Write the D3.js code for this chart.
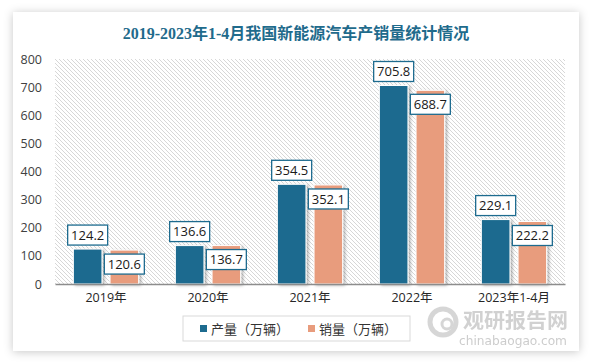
<!DOCTYPE html>
<html><head><meta charset="utf-8">
<script src="https://cdn.jsdelivr.net/npm/d3@7/dist/d3.min.js"></script>
<style>html,body{margin:0;padding:0;background:#fff;}svg{display:block;}</style>
</head><body>
<svg id="chart" width="595" height="364"></svg>
<script>
const categories = ["2019年","2020年","2021年","2022年","2023年1-4月"];
const seriesNames = ["产量（万辆）","销量（万辆）"];
const production = [124.2,136.6,354.5,705.8,229.1];
const sales = [120.6,136.7,352.1,688.7,222.2];
const yTicks = [0,100,200,300,400,500,600,700,800];
const colors = ["#1d6b8f","#e89c7d"];
const title = "2019-2023年1-4月我国新能源汽车产销量统计情况";

(function(){
const svg = d3.select("#chart");
const defs = svg.append("defs");
const cardF = defs.append("filter").attr("id","cardShadow").attr("x","-10%").attr("y","-10%").attr("width","120%").attr("height","120%");
cardF.append("feDropShadow").attr("dx",0).attr("dy",1).attr("stdDeviation",5).attr("flood-color","#000").attr("flood-opacity",0.22);
const barF = defs.append("filter").attr("id","barShadow").attr("x","-20%").attr("y","-10%").attr("width","150%").attr("height","130%");
barF.append("feDropShadow").attr("dx",2).attr("dy",1).attr("stdDeviation",1.5).attr("flood-color","#000").attr("flood-opacity",0.3);
const pat = defs.append("pattern").attr("id","hatch").attr("patternUnits","userSpaceOnUse").attr("width",4).attr("height",4);
pat.append("rect").attr("width",4).attr("height",4).attr("fill","#fff");
pat.append("path").attr("d","M-1,-1 L5,5 M-1,3 L1,5 M3,-1 L5,1").attr("stroke","#d2d2d2").attr("stroke-width",0.9);

svg.append("rect").attr("x",13).attr("y",12).attr("width",566).attr("height",339).attr("fill","#fff").attr("filter","url(#cardShadow)");

svg.append("text").attr("x",296).attr("y",39).attr("text-anchor","middle")
  .attr("font-family","'Liberation Serif','Noto Sans CJK SC',serif").attr("font-weight","bold")
  .attr("font-size",16).attr("fill","#1f6b8c").text(title);

const pL=55, pR=565, pT=59, pB=284;
const y = d3.scaleLinear().domain([0,800]).range([pB,pT]);
const x0 = d3.scaleBand().domain(categories).range([pL,pR]).paddingInner(0.36).paddingOuter(0.18);
const x1 = d3.scaleBand().domain([0,1]).range([0,x0.bandwidth()]).paddingInner(0.22);

svg.append("rect").attr("x",pL).attr("y",pT).attr("width",pR-pL).attr("height",pB-pT).attr("fill","url(#hatch)");

const yAxis = svg.append("g").attr("transform",`translate(${pL},0)`)
  .call(d3.axisLeft(y).tickValues(yTicks).tickSize(0).tickPadding(13));
yAxis.select(".domain").remove();
yAxis.selectAll("text").attr("font-family","'Open Sans','DejaVu Sans',sans-serif").attr("font-size",12.5).attr("fill","#404040");

const data = [production, sales];
const font = "'Open Sans','Noto Sans CJK SC',sans-serif";
data.forEach((vals,si)=>{
  svg.append("g").selectAll("rect").data(vals).join("rect")
    .attr("x",(d,i)=>x0(categories[i])+x1(si))
    .attr("y",d=>y(d)).attr("width",x1.bandwidth()).attr("height",d=>pB-y(d))
    .attr("fill",colors[si]).attr("stroke","#fff").attr("stroke-width",1)
    .attr("filter","url(#barShadow)");
});

const xAxis = svg.append("g").attr("transform",`translate(0,${pB})`)
  .call(d3.axisBottom(x0).tickSize(0).tickPadding(9));
xAxis.select(".domain").attr("stroke","#8c8c8c").attr("stroke-width",1.5);
xAxis.selectAll("text").attr("font-family",font).attr("font-size",12.5).attr("fill","#262626");

const bw=40, bh=20;
data.forEach((vals,si)=>{
  const g = svg.append("g");
  vals.forEach((v,i)=>{
    const cx = x0(categories[i])+x1(si)+x1.bandwidth()/2;
    const by = si===0 ? y(v)-4-bh : y(v)+4;
    g.append("rect").attr("x",cx-bw/2).attr("y",by).attr("width",bw).attr("height",bh)
      .attr("fill","#fff").attr("stroke","#1d6b8f").attr("stroke-width",1.3);
    g.append("text").attr("x",cx).attr("y",by+bh/2+4.6).attr("text-anchor","middle")
      .attr("font-family",font).attr("font-size",13).attr("fill","#1a1a1a").text(v.toFixed(1));
  });
});

svg.append("rect").attr("x",183).attr("y",316).attr("width",227).attr("height",25).attr("fill","#fff").attr("stroke","#d9d9d9");
const lx=[200,308];
seriesNames.forEach((n,i)=>{
  svg.append("rect").attr("x",lx[i]).attr("y",325).attr("width",7).attr("height",7).attr("fill",colors[i]);
  svg.append("text").attr("x",lx[i]+11).attr("y",333.5).attr("font-family",font).attr("font-size",13).attr("fill","#333").text(n);
});

const wm = svg.append("g").attr("opacity",0.85);
wm.append("circle").attr("cx",443).attr("cy",322).attr("r",13).attr("fill","none").attr("stroke","#d0d0d0").attr("stroke-width",5);
wm.append("circle").attr("cx",447).attr("cy",324).attr("r",5).attr("fill","none").attr("stroke","#d0d0d0").attr("stroke-width",3);
wm.append("text").attr("x",463).attr("y",328).attr("font-family","'Noto Sans CJK SC',sans-serif").attr("font-weight","bold")
  .attr("font-size",20).attr("textLength",105).attr("lengthAdjust","spacingAndGlyphs").attr("fill","#c9c9c9").text("观研报告网");
wm.append("text").attr("x",459).attr("y",345).attr("font-family","'DejaVu Sans',sans-serif")
  .attr("font-size",12).attr("textLength",108).attr("lengthAdjust","spacingAndGlyphs").attr("fill","#c4c4c4").text("chinabaogao.com");
})();
</script>
</body></html>
